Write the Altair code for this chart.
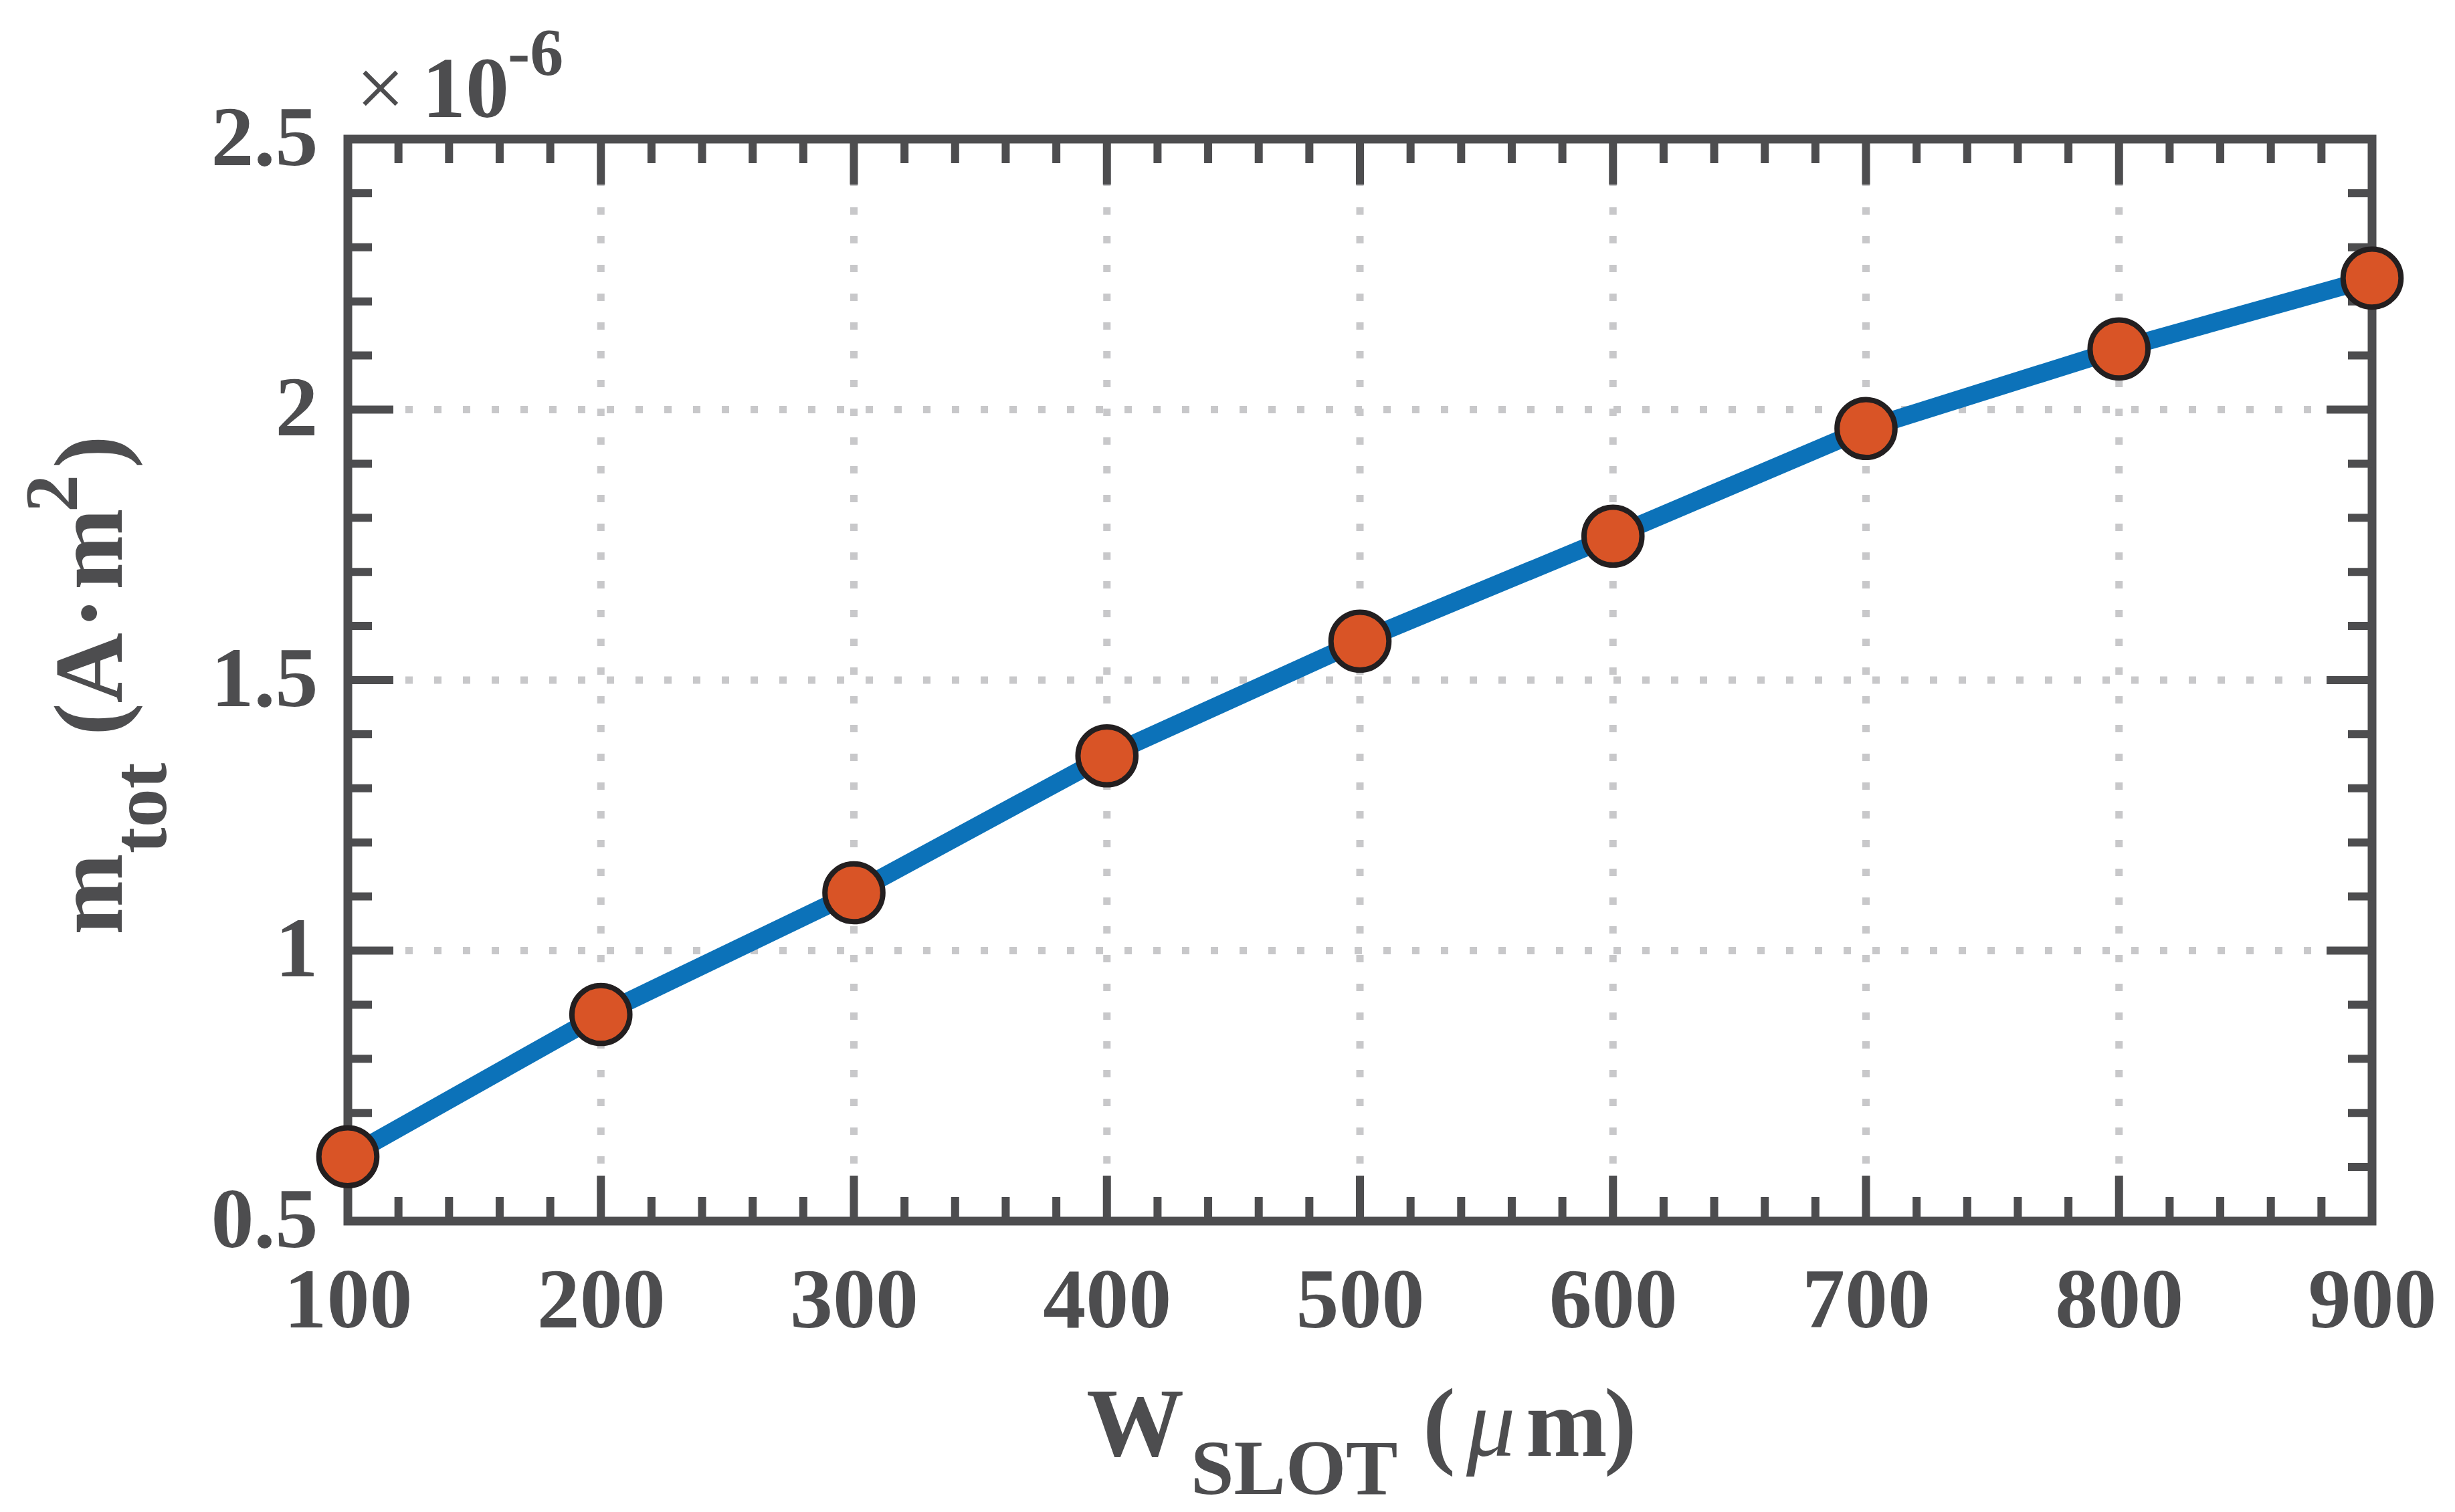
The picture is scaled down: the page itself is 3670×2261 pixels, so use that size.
import altair as alt
import pandas as pd

# ---- data (values in units of 1e-6 A*m^2) ----
w_slot = [100, 200, 300, 400, 500, 600, 700, 800, 900]
m_tot = [0.619, 0.882, 1.107, 1.360, 1.572, 1.766, 1.965, 2.112, 2.243]

x_major = [100, 200, 300, 400, 500, 600, 700, 800, 900]
x_minor = [120, 140, 160, 180, 220, 240, 260, 280, 320, 340, 360, 380,
           420, 440, 460, 480, 520, 540, 560, 580, 620, 640, 660, 680,
           720, 740, 760, 780, 820, 840, 860, 880]
y_major = [0.5, 1.0, 1.5, 2.0, 2.5]
y_minor = [0.6, 0.7, 0.8, 0.9, 1.1, 1.2, 1.3, 1.4, 1.6, 1.7, 1.8, 1.9,
           2.1, 2.2, 2.3, 2.4]
x_grid = [200, 300, 400, 500, 600, 700, 800]
y_grid = [1.0, 1.5, 2.0]

# ---- styling ----
W, H = 3026, 1618
GRAY = "#4d4d4f"
GRID = "#c8c8ca"
FONT = "Liberation Serif"
MAJ, MIN = 68, 36
TICKW = 12

xscale = alt.Scale(domain=[100, 900], nice=False, zero=False)
yscale = alt.Scale(domain=[0.5, 2.5], nice=False, zero=False)

XAX = alt.Axis(values=x_major, format="d", title=None, grid=False, ticks=False,
               domain=False, labelFont=FONT, labelFontWeight="bold",
               labelFontSize=128, labelColor=GRAY, labelPadding=57,
               labelFlush=False, labelOverlap=False, labelBound=False,
               labelLimit=2000)
YAX = alt.Axis(values=y_major, format="~g", title=None, grid=False, ticks=False,
               domain=False, labelFont=FONT, labelFontWeight="bold",
               labelFontSize=128, labelColor=GRAY, labelPadding=45,
               labelFlush=False, labelOverlap=False, labelBound=False,
               labelLimit=2000)


def X():
    return alt.X("x:Q", scale=xscale, axis=XAX)


def Y():
    return alt.Y("y:Q", scale=yscale, axis=YAX)


df = pd.DataFrame({"x": w_slot, "y": m_tot})
one = pd.DataFrame({"a": [0]})

layers = []

# grid
layers.append(alt.Chart(pd.DataFrame({"x": x_grid})).mark_rule(
    color=GRID, strokeWidth=11, strokeDash=[11, 32]).encode(
    x=X(), y=alt.value(H), y2=alt.value(0)))
layers.append(alt.Chart(pd.DataFrame({"y": y_grid})).mark_rule(
    color=GRID, strokeWidth=11, strokeDash=[11, 32]).encode(
    y=Y(), x=alt.value(0), x2=alt.value(W)))

# frame
layers.append(alt.Chart(one).mark_rect(fillOpacity=0, stroke=GRAY, strokeWidth=13).encode(
    x=alt.value(0), x2=alt.value(W), y=alt.value(0), y2=alt.value(H)))

# ticks (inward, all four sides)
for vals, ln in ((x_major, MAJ), (x_minor, MIN)):
    d = pd.DataFrame({"x": vals})
    layers.append(alt.Chart(d).mark_rule(color=GRAY, strokeWidth=TICKW).encode(
        x=X(), y=alt.value(H), y2=alt.value(H - ln)))
    layers.append(alt.Chart(d).mark_rule(color=GRAY, strokeWidth=TICKW).encode(
        x=X(), y=alt.value(0), y2=alt.value(ln)))
for vals, ln in ((y_major, MAJ), (y_minor, MIN)):
    d = pd.DataFrame({"y": vals})
    layers.append(alt.Chart(d).mark_rule(color=GRAY, strokeWidth=TICKW).encode(
        y=Y(), x=alt.value(0), x2=alt.value(ln)))
    layers.append(alt.Chart(d).mark_rule(color=GRAY, strokeWidth=TICKW).encode(
        y=Y(), x=alt.value(W), x2=alt.value(W - ln)))

# data line and markers
layers.append(alt.Chart(df).mark_line(color="#0C72B9", strokeWidth=27).encode(x=X(), y=Y()))
layers.append(alt.Chart(df).mark_point(shape="circle", filled=True, fill="#D95426",
                                       stroke="#231f20", strokeWidth=8, size=7500,
                                       opacity=1).encode(x=X(), y=Y()))


def txt(t, x, y, size, weight="bold", style="normal", angle=0, align="left",
        baseline="alphabetic"):
    return alt.Chart(one).mark_text(
        text=t, font=FONT, fontSize=size, fontWeight=weight, fontStyle=style,
        angle=angle, align=align, baseline=baseline, color=GRAY).encode(
        x=alt.value(x), y=alt.value(y))


# x title: W_SLOT (mu m)
layers += [
    txt("W", 1104, 1969, 146),
    txt("SLOT", 1260, 2026, 116),
    txt("(", 1607, 1969, 146),
    txt("\u03bc", 1672, 1969, 146, weight="normal", style="italic"),
    txt("m", 1761, 1969, 146),
    txt(")", 1878, 1969, 146),
]

# y title: m_tot (A . m^2), rotated
layers += [
    txt("m", -338, 1190, 146, angle=270),
    txt("tot", -272, 1068, 116, angle=270),
    txt("(A", -338, 892, 146, angle=270),
    txt("\u00b7", -338, 709, 146, angle=270, align="center"),
    txt("m", -338, 674, 146, angle=270),
    txt("2", -405, 558, 112, angle=270),
    txt(")", -338, 492, 146, angle=270),
]

# exponent label
layers += [
    txt("\u00d7", 12, -33, 130, weight="normal"),
    txt("10", 111, -33, 130),
    txt("-6", 239, -97, 100),
]

chart = alt.layer(*layers).properties(
    width=W, height=H,
    autosize=alt.AutoSizeParams(type="none"),
    padding={"left": 520, "top": 208, "right": 124, "bottom": 435},
    background="white",
).configure_view(stroke=None)

chart.save("out.html", embed_options={"renderer": "svg", "actions": False})
